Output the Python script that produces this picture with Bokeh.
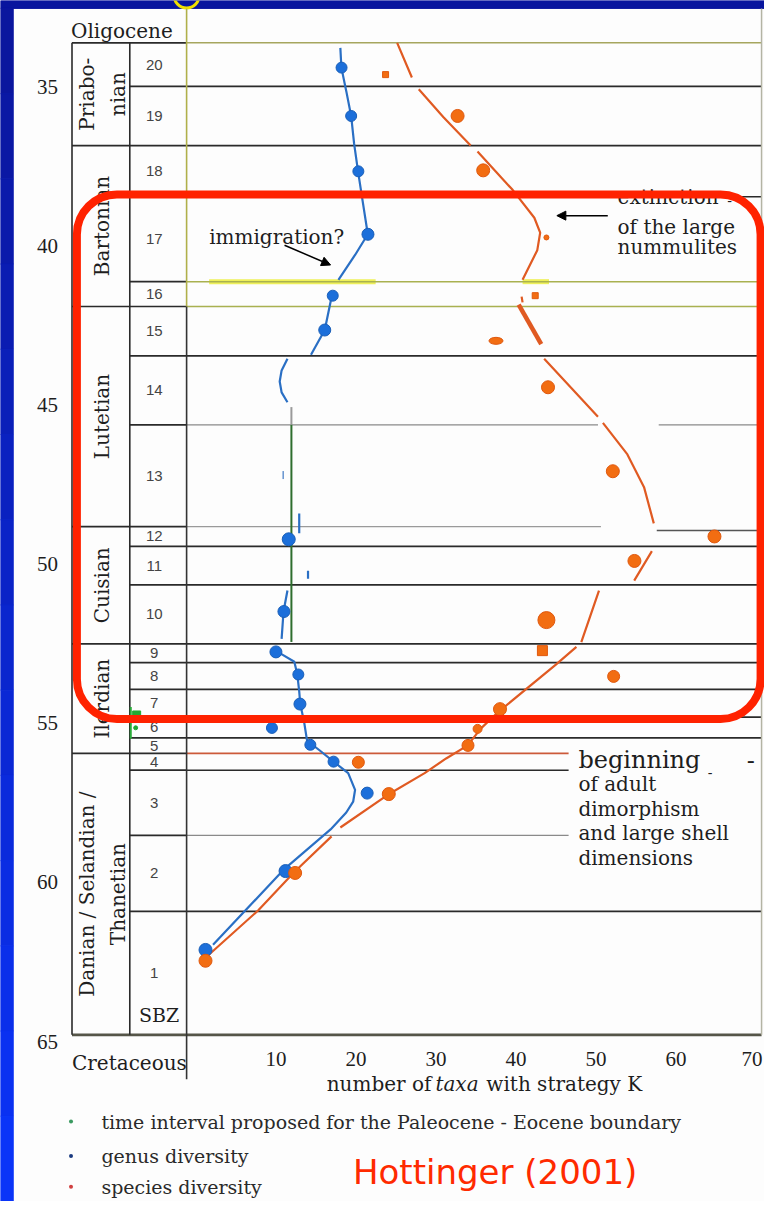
import numpy as np
from bokeh.plotting import figure
from bokeh.models import Range1d, BoxAnnotation, Arrow, NormalHead, ColumnDataSource
from bokeh.core.properties import value
from bokeh.embed import file_html
from bokeh.resources import INLINE

# ---------------- data ----------------
zone_labels = ["20", "19", "18", "17", "16", "15", "14", "13", "12", "11",
               "10", "9", "8", "7", "6", "5", "4", "3", "2", "1"]
# SBZ zone boundaries, Ma (top to bottom)
zone_bounds = [33.60, 34.97, 36.83, 38.44, 41.11, 41.89, 43.44, 45.61, 48.81, 49.43,
               50.64, 52.50, 53.09, 53.93, 54.80, 55.45, 55.94, 56.47, 58.52, 60.91, 64.79]
stage_labels = ["Priabo-\nnian", "Bartonian", "Lutetian", "Cuisian", "Ilerdian",
                "Danian / Selandian /\nThanetian"]
stage_bounds = [33.60, 36.83, 41.89, 48.81, 52.50, 55.94, 64.79]
age_ticks = [35, 40, 45, 50, 55, 60, 65]
taxa_ticks = [10, 20, 30, 40, 50, 60, 70]

# genus diversity (blue)
genus_zone = [20, 19, 18, 17, 16, 15, 13, 12, 10, 9, 8, 7, 6, 5, 4, 3, 2, 1]
genus_taxa = [18.2, 19.4, 20.3, 21.5, 17.1, 16.1, 10.9, 11.6, 11.0, 10.0, 12.8, 13.0, 9.5, 14.3, 17.2, 21.4, 11.2, 1.2]
genus_age = [34.38, 35.90, 37.64, 39.62, 41.55, 42.63, 47.19, 49.21, 51.48, 52.75, 53.46, 54.39, 55.14, 55.67, 56.20, 57.19, 59.64, 62.12]
genus_marker = ["circle"] * 6 + ["dash"] + ["circle"] * 11
genus_size = [11, 11, 11, 12, 11, 12, 8, 13, 12, 12, 11, 12, 11, 11, 11, 12, 13, 13]

# species diversity (orange)
species_zone = [20, 19, 18, 17, 16, 15, 14, 13, 12, 11, 10, 9, 8, 7, 6, 5, 4, 3, 2, 1]
species_taxa = [23.7, 32.7, 35.9, 43.8, 42.4, 37.5, 44.0, 52.1, 64.8, 54.8, 43.8, 43.3, 52.2, 38.0, 35.2, 34.0, 20.3, 24.1, 12.4, 1.2]
species_age = [34.60, 35.90, 37.61, 39.72, 41.55, 42.97, 44.43, 47.07, 49.12, 49.89, 51.75, 52.71, 53.52, 54.55, 55.17, 55.69, 56.22, 57.22, 59.70, 62.46]
species_marker = ["square", "circle", "circle", "circle", "square", "ellipse", "circle", "circle", "circle", "circle",
                  "circle", "square", "circle", "circle", "circle", "circle", "circle", "circle", "circle", "circle"]
species_size = [6, 13, 13, 5, 6, 14, 13, 13, 13, 13, 17, 10, 12, 13, 9, 12, 12, 13, 13, 13]

nan = float("nan")
# hand-drawn trend curves (as traced), NaN = pen lifted
genus_curve_taxa = [18.05, 18.18, 18.79, 19.40, 19.77, 20.26, 20.87, 21.48, 19.89, 17.81, nan,
                    17.07, 16.10, 14.38, nan,
                    11.44, 10.71, 10.47, 10.71, 11.44, nan,
                    12.91, 12.91, nan, 14.01, 14.01, nan,
                    11.44, 10.95, 10.71, nan,
                    10.22, 12.30, 12.67, 12.91, 13.04, 13.52, 13.89, 15.48, 17.20, 19.03, 19.89, 19.65, 18.79, 16.83, 11.08, 2.14]
genus_curve_age = [33.76, 34.38, 35.12, 35.90, 36.77, 37.64, 38.63, 39.62, 40.27, 41.05, nan,
                   41.45, 42.63, 43.41, nan,
                   43.53, 43.90, 44.25, 44.59, 44.90, nan,
                   48.40, 49.02, nan, 50.20, 50.45, nan,
                   50.82, 51.48, 52.34, nan,
                   52.75, 53.06, 53.46, 53.99, 54.39, 54.95, 55.54, 55.85, 56.20, 56.56, 57.09, 57.46, 57.80, 58.33, 59.57, 61.96]
species_curve_taxa = [25.15, 26.99, nan, 27.85, 30.91, 34.33, nan,
                      35.19, 39.60, 42.29, 43.02, 42.66, 40.82, nan,
                      40.70, 40.82, nan,
                      43.52, 46.94, 50.24, nan, 50.86, 53.92, 56.00, 57.22, nan,
                      56.98, 54.77, nan,
                      50.37, 48.16, nan,
                      47.55, 44.98, 37.64, 35.56, 33.97, 31.27, 28.58, 23.93, 18.05, nan,
                      16.95, 12.30, 7.77, 0.92]
species_curve_age = [33.60, 34.69, nan, 35.06, 35.93, 36.83, nan,
                     37.02, 38.23, 39.10, 39.57, 40.12, 41.05, nan,
                     41.58, 41.76, nan,
                     43.53, 44.46, 45.36, nan, 45.55, 46.54, 47.57, 48.71, nan,
                     49.58, 50.51, nan,
                     50.82, 52.44, nan,
                     52.59, 53.15, 54.67, 55.17, 55.69, 56.10, 56.56, 57.25, 58.27, nan,
                     58.55, 59.67, 60.88, 62.43]
species_thick_taxa = [40.33, 43.15]
species_thick_age = [41.83, 43.07]

# ---------------- layout helpers (design pixel -> data units) ----------------
W, H = 764, 1201


def tx(px):
    return (px - 199.5) / 8.17


def ty(py):
    return 35 + (py - 88) / 32.23


p = figure(width=W, height=H, x_range=Range1d(tx(0), tx(780)), y_range=Range1d(ty(1217), ty(0)),
           x_axis_type=None, y_axis_type=None, output_backend="svg", toolbar_location=None,
           min_border=0)
p.outline_line_color = None
p.background_fill_color = "#fdfdfd"
p.border_fill_color = "#fdfdfd"

SERIF = value("DejaVu Serif")
INK = "#1e1e1e"

# slide background: top band and left strip (gradient)
p.quad(left=tx(0), right=tx(780), top=ty(0), bottom=ty(8), fill_color="#08159e", line_color="#08159e")
n = 14
edges = np.linspace(ty(8), ty(1217), n + 1)
cols = []
for k in range(n):
    f = k / (n - 1)
    r, g, b = 10, int(22 + 30 * f), int(158 + 90 * f)
    cols.append("#%02x%02x%02x" % (r, g, b))
p.quad(left=tx(0), right=tx(13), top=list(edges[:-1]), bottom=list(edges[1:]),
       fill_color=cols, line_color=cols)
p.scatter(x=[tx(190)], y=[ty(-5)], marker="circle", size=25, fill_alpha=0,
          line_color="#f0e000", line_width=3)

# yellow highlight at the SBZ 17/16 boundary
p.segment(x0=[tx(213), tx(533)], x1=[tx(383), tx(560)], y0=[zone_bounds[4]] * 2, y1=[zone_bounds[4]] * 2,
          line_color="#eef05a", line_width=5)

# ---------------- table / zone lines ----------------
TL, SL, FL, RX = tx(73), tx(132), tx(190), tx(777)
short_end = tx(580)
tx0, tx1, ty0, ty1, tcol, twid = [], [], [], [], [], []


def seg(a, b, y0, y1, c, w):
    tx0.append(a); tx1.append(b); ty0.append(y0); ty1.append(y1); tcol.append(c); twid.append(w)


DARK = "#2a2a2a"
for i, bnd in enumerate(zone_bounds):
    start = TL if bnd in stage_bounds else SL
    w = 2.6 if i == 20 else 1.7
    seg(start, FL, bnd, bnd, DARK if i != 20 else "#555548", w)
    if i == 0:
        seg(FL, RX, bnd, bnd, "#a6a65e", 1.5)
    elif i in (4, 5):
        seg(FL, RX, bnd, bnd, "#a9b150", 1.6)
    elif i == 7:
        seg(FL, tx(610), bnd, bnd, "#8a8a8a", 1.2)
        seg(tx(672), RX, bnd, bnd, "#8a8a8a", 1.2)
    elif i == 8:
        seg(FL, tx(613), bnd, bnd, "#9a9a9a", 1.2)
        seg(tx(670), RX, ty(537), ty(537), "#555555", 1.5)
    elif i == 16:
        seg(FL, short_end, bnd, bnd, "#cc5a3a", 1.6)
    elif i == 17:
        seg(FL, short_end, bnd, bnd, DARK, 1.6)
    elif i == 18:
        seg(FL, short_end, bnd, bnd, "#8a8a8a", 1.2)
    elif i == 20:
        seg(FL, RX, bnd, bnd, "#555548", 2.6)
    else:
        seg(FL, RX, bnd, bnd, DARK, 1.7)

# vertical lines
seg(TL, TL, zone_bounds[0], zone_bounds[-1], DARK, 1.6)
seg(SL, SL, zone_bounds[0], zone_bounds[-1], DARK, 1.6)
seg(FL, FL, ty(8), zone_bounds[5], "#b0b04a", 1.6)
seg(FL, FL, zone_bounds[5], ty(1093), "#333333", 1.6)
seg(RX, RX, ty(8), zone_bounds[-1], "#b4b4a4", 1.5)
p.segment(x0=tx0, x1=tx1, y0=ty0, y1=ty1, line_color=tcol, line_width=twid)

# dark green vertical and Paleocene-Eocene boundary marks
p.segment(x0=[tx(297), tx(297)], x1=[tx(297), tx(297)], y0=[ty(412), ty(430)], y1=[ty(430), ty(650)],
          line_color=["#9a9a9a", "#2e6e2e"], line_width=2)
p.segment(x0=[tx(133)], x1=[tx(133)], y0=[ty(716)], y1=[ty(748)], line_color="#2aaa3a", line_width=2)
p.scatter(x=[tx(139), tx(138)], y=[ty(724), ty(737)], marker=["square", "circle"], size=[8, 4],
          fill_color="#22aa33", line_color="#22aa33")

# ---------------- curves and points ----------------
p.line(genus_curve_taxa, genus_curve_age, line_color="#2a6fc4", line_width=2.2)
p.line(species_curve_taxa, species_curve_age, line_color="#e05a22", line_width=2.2)
p.line(species_thick_taxa, species_thick_age, line_color="#e05a22", line_width=4.5)

gsrc = ColumnDataSource(dict(x=genus_taxa, y=genus_age, m=genus_marker, s=genus_size,
                             a=[np.pi / 2 if m == "dash" else 0 for m in genus_marker]))
p.scatter(x="x", y="y", marker="m", size="s", angle="a", source=gsrc,
          fill_color="#1c6fda", line_color="#1a5fb8", line_width=1)

sc = [i for i, m in enumerate(species_marker) if m != "ellipse"]
se = [i for i, m in enumerate(species_marker) if m == "ellipse"]
ssrc = ColumnDataSource(dict(x=[species_taxa[i] for i in sc], y=[species_age[i] for i in sc],
                             m=[species_marker[i] for i in sc], s=[species_size[i] for i in sc]))
p.scatter(x="x", y="y", marker="m", size="s", source=ssrc,
          fill_color="#f26d12", line_color="#e0580e", line_width=1)
p.ellipse(x=[species_taxa[i] for i in se], y=[species_age[i] for i in se],
          width=[species_size[i] for i in se], height=[species_size[i] / 2 for i in se],
          width_units="screen", height_units="screen", fill_color="#f26d12", line_color="#e0580e")

# ---------------- texts ----------------


def txt(x, y, s, size="20px", font=SERIF, align="left", baseline="middle", color=INK, angle=0,
        style="normal", lh=1.2, xoff=0):
    p.text(x=x if isinstance(x, list) else [x], y=y if isinstance(y, list) else [y],
           text=s if isinstance(s, list) else [s], text_font=font, text_font_size=size,
           text_align=align, text_baseline=baseline, text_color=color, angle=angle,
           text_font_style=style, text_line_height=lh, x_offset=xoff)


txt(tx(72), ty(31), "Oligocene", baseline="alphabetic")
txt([tx(48)] * len(age_ticks), age_ticks, [str(v) for v in age_ticks], size="21px",
    font=value("Liberation Serif"), align="center")
txt(taxa_ticks[:-1], [ty(1073)] * (len(taxa_ticks) - 1), [str(v) for v in taxa_ticks[:-1]], size="21px",
    font=value("Liberation Serif"), align="center")
txt(taxa_ticks[-1], ty(1073), str(taxa_ticks[-1]), size="21px",
    font=value("Liberation Serif"), align="center", xoff=-4)
txt(tx(73), ty(1077), "Cretaceous")

zone_mid = [(zone_bounds[k] + zone_bounds[k + 1]) / 2 for k in range(len(zone_labels))]
txt([tx(157)] * len(zone_labels), zone_mid, zone_labels, size="15px", font=value("Liberation Sans"),
    align="center", color="#444444")
txt(tx(162), ty(1028), "SBZ", size="19px", align="center")

stage_mid = [(stage_bounds[k] + stage_bounds[k + 1]) / 2 for k in range(len(stage_labels))]
txt([tx(104)] * len(stage_labels), stage_mid, stage_labels, align="center", angle=np.pi / 2, lh=1.3)

# axis title with italic "taxa"
txt(tx(333), ty(1098), "number of")
txt(tx(444), ty(1098), "taxa", style="italic")
txt(tx(496), ty(1098), "with strategy K")

# annotations in the chart
txt(tx(213), ty(240), "immigration?", baseline="alphabetic")
txt(tx(630), ty(199), "extinction", baseline="alphabetic")
txt(tx(742), ty(203), "-", size="14px")
txt(tx(630), ty(230), "of the large", baseline="alphabetic")
txt(tx(630), ty(250), "nummulites", baseline="alphabetic")
txt(tx(590), ty(770), "beginning", size="24px", baseline="alphabetic")
txt(tx(762), ty(770), "-", size="24px", baseline="alphabetic")
txt(tx(722), ty(782), "-", size="14px")
for k, s in enumerate(["of adult", "dimorphism", "and large shell", "dimensions"]):
    txt(tx(590), ty(794 + 25 * k), s, baseline="alphabetic")

# legend
leg_rows = [ty(1136), ty(1171), ty(1202)]
p.scatter(x=[tx(72)] * 3, y=leg_rows, size=4, fill_color=["#3a9a60", "#1a3a80", "#d04040"],
          line_color=None)
txt([tx(103)] * 3, leg_rows, ["time interval proposed for the Paleocene - Eocene boundary",
                              "genus diversity", "species diversity"], size="19px", color="#2a2a2a")
txt(tx(505), ty(1187), "Hottinger (2001)", size="34px", font=value("DejaVu Sans"), align="center",
    color="#ff2a00")

# arrows
p.add_layout(Arrow(end=NormalHead(size=9, fill_color="black", line_color="black"),
                   x_start=tx(290), y_start=ty(248), x_end=tx(337), y_end=ty(268),
                   line_color="black", line_width=1.5))
p.add_layout(Arrow(end=NormalHead(size=9, fill_color="black", line_color="black"),
                   x_start=tx(620), y_start=ty(218), x_end=tx(568), y_end=ty(218),
                   line_color="black", line_width=1.5))

# red highlight frame
p.add_layout(BoxAnnotation(left=tx(78), right=tx(776), top=ty(196.5), bottom=ty(728),
                           fill_alpha=0, line_alpha=1, line_color="#ff2200", line_width=8,
                           border_radius=40))

open("out.html", "w").write(file_html(p, INLINE))
